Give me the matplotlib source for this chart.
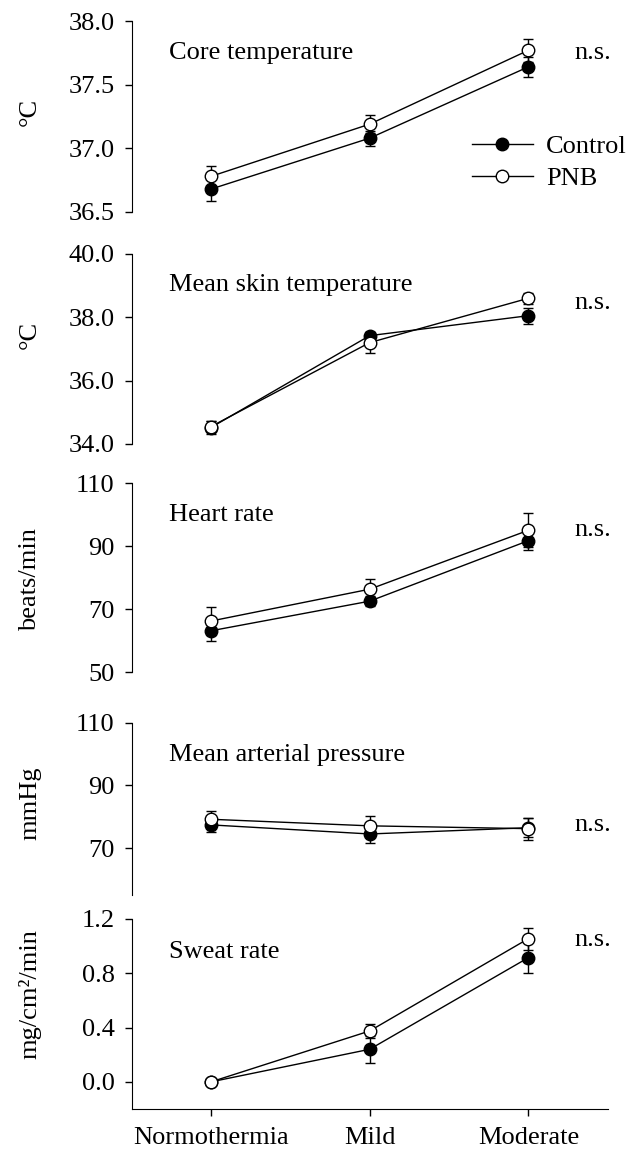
import numpy as np
import matplotlib
matplotlib.use("Agg")
import matplotlib.pyplot as plt
from matplotlib.lines import Line2D
from matplotlib.ticker import FormatStrFormatter

plt.rcParams['font.family'] = ['Liberation Serif', 'DejaVu Serif']
plt.rcParams['font.size'] = 19

conditions = ["Normothermia", "Mild", "Moderate"]

# core temperature (degC)
core_ctrl = [36.68, 37.08, 37.64]
core_ctrl_se = [0.09, 0.06, 0.08]
core_pnb = [36.78, 37.19, 37.77]
core_pnb_se = [0.08, 0.07, 0.09]

# mean skin temperature (degC)
skin_ctrl = [34.52, 37.42, 38.05]
skin_ctrl_se = [0.20, 0.12, 0.25]
skin_pnb = [34.55, 37.20, 38.60]
skin_pnb_se = [0.17, 0.34, 0.18]

# heart rate (beats/min)
hr_ctrl = [63.1, 72.5, 91.7]
hr_ctrl_se = [3.3, 1.5, 3.0]
hr_pnb = [66.2, 76.3, 95.0]
hr_pnb_se = [4.3, 3.2, 5.4]

# mean arterial pressure (mmHg)
map_ctrl = [77.4, 74.5, 76.5]
map_ctrl_se = [2.4, 2.8, 3.0]
map_pnb = [79.2, 77.1, 76.2]
map_pnb_se = [2.6, 3.0, 3.5]

# sweat rate (mg/cm2/min)
sw_ctrl = [0.0, 0.24, 0.915]
sw_ctrl_se = [0.0, 0.10, 0.115]
sw_pnb = [0.0, 0.375, 1.055]
sw_pnb_se = [0.0, 0.05, 0.08]

panels = [
    # title, ylabel, ctrl, ctrl_se, pnb, pnb_se, ylim, yticks, fmt, title_y, ns_y, ylabel_y
    ("Core temperature", "°C", core_ctrl, core_ctrl_se, core_pnb, core_pnb_se,
     (36.5, 38.0), [36.5, 37.0, 37.5, 38.0], "%.1f", 0.832, 0.832, 0.524),
    ("Mean skin temperature", "°C", skin_ctrl, skin_ctrl_se, skin_pnb, skin_pnb_se,
     (34.0, 40.0), [34.0, 36.0, 38.0, 40.0], "%.1f", 0.837, 0.741, 0.574),
    ("Heart rate", "beats/min", hr_ctrl, hr_ctrl_se, hr_pnb, hr_pnb_se,
     (50, 110), [50, 70, 90, 110], "%d", 0.831, 0.751, 0.487),
    ("Mean arterial pressure", "mmHg", map_ctrl, map_ctrl_se, map_pnb, map_pnb_se,
     (55, 110), [70, 90, 110], "%d", 0.814, 0.407, 0.535),
    ("Sweat rate", "mg/cm²/min", sw_ctrl, sw_ctrl_se, sw_pnb, sw_pnb_se,
     (-0.2, 1.2), [0.0, 0.4, 0.8, 1.2], "%.1f", 0.828, 0.889, 0.605),
]

# axes boxes in figure fractions (left, bottom, width, height)
boxes = [
    (0.209, 0.8155, 0.7556, 0.1662),
    (0.209, 0.6136, 0.7556, 0.1654),
    (0.209, 0.4151, 0.7556, 0.1645),
    (0.209, 0.2211, 0.7556, 0.1497),
    (0.209, 0.0348, 0.7556, 0.1654),
]

fig = plt.figure(figsize=(6.3, 11.49), dpi=100)
x = np.arange(len(conditions))

for i, (p, box) in enumerate(zip(panels, boxes)):
    title, ylab, c, cse, pn, pse, ylim, yticks, fmt, ty, nsy, ly = p
    ax = fig.add_axes(box)
    ax.errorbar(x, c, yerr=cse, color='black', lw=1, marker='o', ms=9,
                mfc='black', mec='black', mew=1, capsize=3.6, capthick=1,
                elinewidth=1, zorder=3)
    ax.errorbar(x, pn, yerr=pse, color='black', lw=1, marker='o', ms=9,
                mfc='white', mec='black', mew=1, capsize=3.6, capthick=1,
                elinewidth=1, zorder=4)
    ax.set_xlim(-0.5, 2.5)
    ax.set_ylim(*ylim)
    ax.set_yticks(yticks)
    ax.yaxis.set_major_formatter(FormatStrFormatter(fmt))
    for s in ['top', 'right']:
        ax.spines[s].set_visible(False)
    ax.tick_params(axis='y', direction='out', length=5.3, width=1, pad=7)
    if i < 4:
        ax.spines['bottom'].set_visible(False)
        ax.set_xticks([])
    else:
        ax.set_xticks(x)
        ax.set_xticklabels(conditions)
        ax.tick_params(axis='x', direction='out', length=5.3, width=1, pad=8)
    ax.set_ylabel(ylab)
    ax.yaxis.set_label_coords(-0.19, ly)
    ax.text(0.078, ty, title, transform=ax.transAxes, ha='left', va='center')
    ax.text(0.930, nsy, "n.s.", transform=ax.transAxes, ha='left', va='center')
    if i == 0:
        handles = [
            Line2D([], [], color='black', lw=1, marker='o', ms=9, mfc='black', mec='black'),
            Line2D([], [], color='black', lw=1, marker='o', ms=9, mfc='white', mec='black'),
        ]
        ax.legend(handles, ['Control', 'PNB'], loc='upper left',
                  bbox_to_anchor=(0.715, 0.404), frameon=False,
                  borderaxespad=0, borderpad=0, handlelength=2.3,
                  handletextpad=0.5, labelspacing=0.33)

fig.savefig("out.png", dpi=100)
